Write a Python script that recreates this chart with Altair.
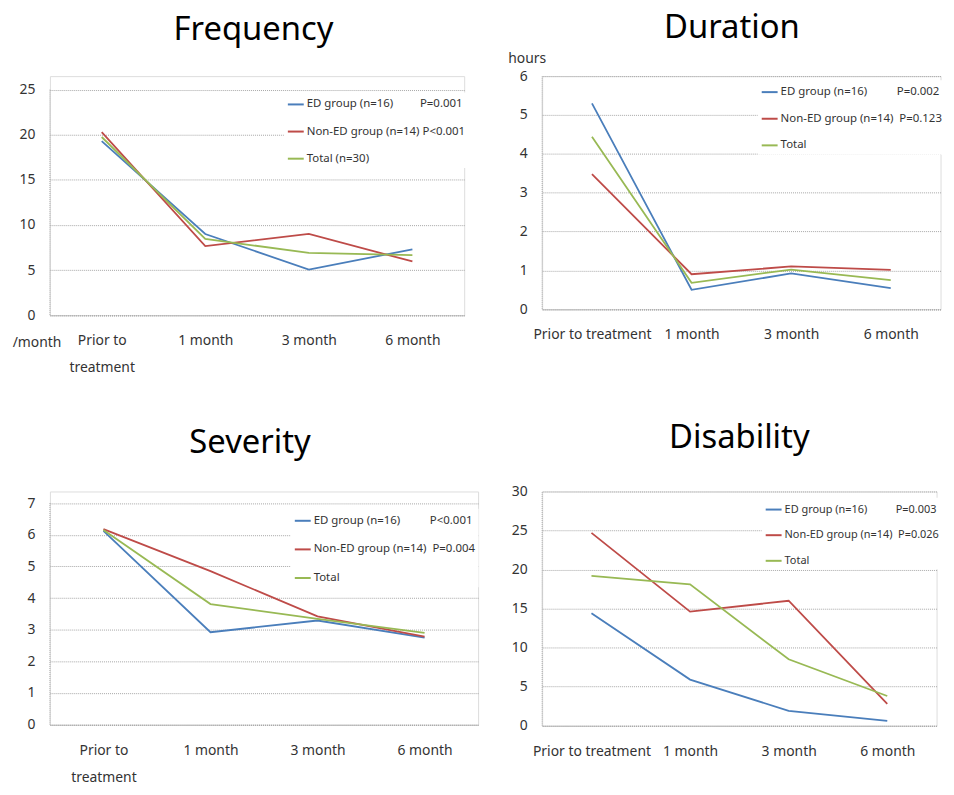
import altair as alt
import pandas as pd

categories = ["Prior to treatment", "1 month", "3 month", "6 month"]

freq_ed = [19.3, 9.0, 5.05, 7.3]
freq_non = [20.3, 7.65, 9.0, 5.95]
freq_total = [19.75, 8.45, 6.9, 6.65]

dur_ed = [5.3, 0.5, 0.92, 0.54]
dur_non = [3.48, 0.9, 1.1, 1.01]
dur_total = [4.44, 0.68, 1.02, 0.75]

sev_ed = [6.12, 2.92, 3.29, 2.75]
sev_non = [6.18, 4.85, 3.42, 2.78]
sev_total = [6.15, 3.81, 3.34, 2.9]

dis_ed = [14.4, 5.9, 1.9, 0.6]
dis_non = [24.7, 14.6, 16.0, 2.8]
dis_total = [19.2, 18.1, 8.5, 3.8]

NB = "\u00a0"
freq_labels = ["ED group (n=16)" + NB * 9 + "P=0.001",
               "Non-ED group (n=14)" + NB + "P<0.001",
               "Total (n=30)"]
dur_labels = ["ED group (n=16)" + NB * 10 + "P=0.002",
              "Non-ED group (n=14)" + NB * 2 + "P=0.123",
              "Total"]
sev_labels = ["ED group (n=16)" + NB * 10 + "P<0.001",
              "Non-ED group (n=14)" + NB * 2 + "P=0.004",
              "Total"]
dis_labels = ["ED group (n=16)" + NB * 10 + "P=0.003",
              "Non-ED group (n=14)" + NB * 2 + "P=0.026",
              "Total"]

colors = ["#4a7ebb", "#be4b48", "#98b954"]
FONT = "Noto Sans"
GRID = "#a6a6a6"


def panel(title, series, labels, grid_max, dom_max, ystep, width, height, legend_x, legend_y,
          row_pad, legend_font, two_line, title_offset, title_dx,
          ytitle=None, ytitle_x=0, ytitle_y=0):
    rows = []
    for lab, vals in zip(labels, series):
        for c, v in zip(categories, vals):
            rows.append({"cat": c, "series": lab, "value": v})
    df = pd.DataFrame(rows)
    if two_line:
        label_expr = "datum.value == 'Prior to treatment' ? ['Prior to', 'treatment'] : datum.value"
    else:
        label_expr = "datum.value"
    xaxis = alt.Axis(title=None, labelAngle=0, labelExpr=label_expr, labelLineHeight=27,
                     ticks=False, grid=False, domainDash=[1, 1], domainColor=GRID,
                     labelPadding=19, labelFontSize=14, labelFont=FONT, labelColor="#333")
    yargs = dict(values=list(range(0, grid_max + 1, ystep)), ticks=False, grid=True,
                 gridDash=[1, 1], gridColor=GRID, domain=False, labelOverlap=False,
                 labelPadding=15, labelFontSize=14, labelFont=FONT, labelColor="#333")
    if ytitle:
        yargs.update(title=ytitle, titleAngle=0, titleX=ytitle_x, titleY=ytitle_y,
                     titleAlign="center", titleBaseline="alphabetic", titleFontSize=14,
                     titleFont=FONT, titleFontWeight="normal", titleColor="#333")
    else:
        yargs.update(title=None)
    yscale = alt.Scale(domain=[0, dom_max], nice=False)
    xenc = alt.X("cat:N", sort=categories, scale=alt.Scale(type="point", padding=0.5), axis=xaxis)
    lines = alt.Chart(df).mark_line(strokeWidth=1.8).encode(
        x=xenc,
        y=alt.Y("value:Q", scale=yscale, axis=alt.Axis(**yargs)),
        color=alt.Color("series:N", scale=alt.Scale(domain=labels, range=colors),
                        legend=alt.Legend(title=None, orient="none", legendX=legend_x, legendY=legend_y,
                                          symbolType="stroke", symbolSize=256, symbolStrokeWidth=2,
                                          labelFontSize=legend_font, labelFont=FONT, labelColor="#333",
                                          rowPadding=row_pad, fillColor="white", padding=3,
                                          labelOffset=2, labelLimit=400)),
        order=alt.Order("series:N"),
    )
    axis_line = alt.Chart(pd.DataFrame({"lo": [0], "hi": [grid_max]})).mark_rule(
        color=GRID, strokeDash=[1, 1], strokeWidth=1
    ).encode(x=alt.value(0), y=alt.Y("lo:Q", scale=yscale, axis=alt.Axis(**yargs)), y2="hi:Q")
    chart = alt.layer(lines, axis_line).properties(
        width=width, height=height,
        title=alt.Title(title, fontSize=33, font=FONT, fontWeight="normal", anchor="middle",
                        frame="group", offset=title_offset, dx=title_dx, baseline="top",
                        color="black"),
    )
    return chart


freq = panel("Frequency", [freq_ed, freq_non, freq_total], freq_labels, 25, 26.5, 5, 417, 240.6,
             235.5, 16.5, 12.3, 11.5, True, 29, -3.5, ytitle="/month", ytitle_x=-13.5, ytitle_y=272.3)
dur = panel("Duration", [dur_ed, dur_non, dur_total], dur_labels, 6, 6, 1, 401, 234.6,
            217, 4.1, 11.8, 11.5, False, 7, -9.5, ytitle="hours", ytitle_x=-15.5, ytitle_y=-13.7)
sev = panel("Severity", [sev_ed, sev_non, sev_total], sev_labels, 7, 7.367, 1, 431, 234.7,
            242.5, 17.5, 13.8, 11.5, True, 32, -14)
dis = panel("Disability", [dis_ed, dis_non, dis_total], dis_labels, 30, 30, 5, 397, 235.7,
            221, 6.2, 11.8, 11, False, 29.3, 0)

chart = alt.concat(freq, dur, sev, dis, columns=2).properties(
    spacing={"row": 177.1, "column": 64.5}, bounds="flush", align="each",
    padding={"left": 3.2, "top": 0, "right": 0, "bottom": 0}
).resolve_scale(color="independent").resolve_legend(color="independent").configure_view(
    stroke="transparent", strokeWidth=0).configure(font=FONT, background="white")

chart.save("out.html", embed_options={"renderer": "svg", "actions": False})
